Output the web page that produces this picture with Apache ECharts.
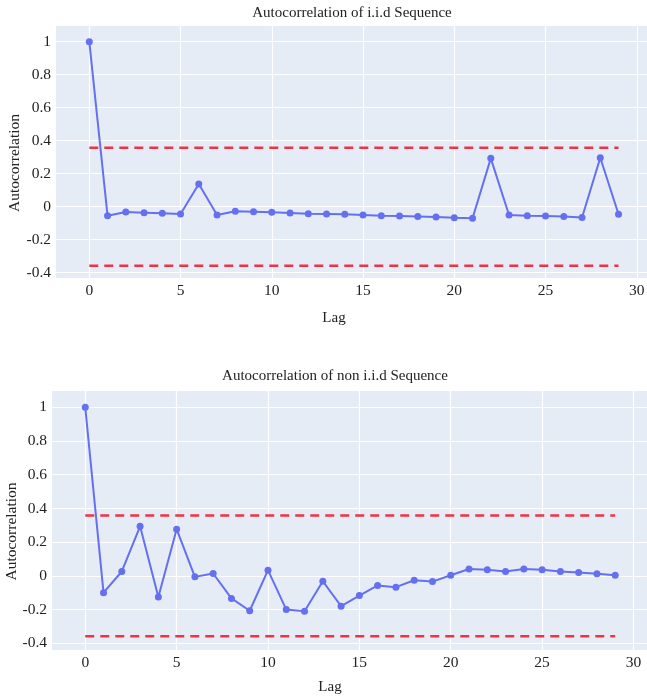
<!DOCTYPE html>
<html>
<head>
<meta charset="utf-8">
<script src="https://cdn.jsdelivr.net/npm/echarts@6/dist/echarts.min.js"></script>
<style>
html,body{margin:0;padding:0;background:#fff;}
#chart{width:647px;height:700px;}
</style>
</head>
<body>
<div id="chart"></div>
<script>
// ---- data ----
const lags = [0,1,2,3,4,5,6,7,8,9,10,11,12,13,14,15,16,17,18,19,20,21,22,23,24,25,26,27,28,29];
const acfIid = [1,-0.055,-0.032,-0.036,-0.040,-0.044,0.137,-0.050,-0.028,-0.030,-0.034,-0.038,-0.042,-0.044,-0.046,-0.050,-0.055,-0.057,-0.060,-0.063,-0.067,-0.070,0.293,-0.050,-0.055,-0.057,-0.060,-0.065,0.297,-0.046];
const acfNonIid = [1,-0.100,0.026,0.294,-0.125,0.277,-0.006,0.014,-0.134,-0.207,0.034,-0.200,-0.210,-0.032,-0.180,-0.117,-0.057,-0.067,-0.026,-0.034,0.004,0.041,0.036,0.026,0.041,0.036,0.026,0.020,0.012,0.004];
const confBound = 0.358;
const boundLags = [0, 29];
const xTicks = [0,5,10,15,20,25,30];
const yTicks = [-0.4,-0.2,0,0.2,0.4,0.6,0.8,1];
const titles = ['Autocorrelation of i.i.d Sequence', 'Autocorrelation of non i.i.d Sequence'];

// ---- chart ----
const FONT = "'Liberation Serif','Times New Roman',serif";
const TXT = '#222';
const chart = echarts.init(document.getElementById('chart'), null, {renderer:'canvas'});

function xAxis(gi, min, max, gap, padR){
  return {
    type:'value', gridIndex:gi, min:min, max:max,
    name:'Lag', nameLocation:'middle', nameGap:gap, nameMoveOverlap:false,
    nameTextStyle:{fontFamily:FONT, fontSize:15, color:TXT, padding:[0,padR,0,0]},
    axisLine:{show:false}, axisTick:{show:false, customValues:xTicks},
    axisLabel:{customValues:xTicks, fontFamily:FONT, fontSize:15.5, color:TXT, margin:5},
    splitLine:{show:true, lineStyle:{color:'#ffffff', width:1.2}}
  };
}
function yAxis(gi, min, max, gap, padR){
  return {
    type:'value', gridIndex:gi, min:min, max:max,
    name:'Autocorrelation', nameLocation:'middle', nameGap:gap, nameRotate:90, nameMoveOverlap:false,
    nameTextStyle:{fontFamily:FONT, fontSize:15.5, color:TXT, padding:[0,padR,0,0]},
    axisLine:{show:false}, axisTick:{show:false, customValues:yTicks},
    axisLabel:{customValues:yTicks, fontFamily:FONT, fontSize:15.5, color:TXT, margin:5},
    splitLine:{show:true, lineStyle:{color:'#ffffff', width:1.2}}
  };
}
function acfSeries(i, vals){
  return {
    type:'line', xAxisIndex:i, yAxisIndex:i,
    data: lags.map((l,k)=>[l, vals[k]]),
    symbol:'circle', symbolSize:7, showSymbol:true,
    lineStyle:{color:'#6470f0', width:2},
    itemStyle:{color:'#6470f0'},
    silent:true, animation:false, z:3
  };
}
function boundSeries(i, v){
  return {
    type:'line', xAxisIndex:i, yAxisIndex:i,
    data: boundLags.map(l=>[l, v]),
    symbol:'none',
    lineStyle:{color:'#ee3344', width:2.5, type:[9,6]},
    silent:true, animation:false, z:2
  };
}

const option = {
  animation:false,
  backgroundColor:'#ffffff',
  title:[
    {text:titles[0], left:347, top:1, textAlign:'center', textStyle:{fontFamily:FONT, fontSize:15, fontWeight:'normal', color:TXT}},
    {text:titles[1], left:330, top:364, textAlign:'center', textStyle:{fontFamily:FONT, fontSize:15, fontWeight:'normal', color:TXT}}
  ],
  grid:[
    {left:56, top:26, width:591, height:252, show:true, backgroundColor:'#e5ecf6', borderWidth:0, containLabel:false, outerBoundsMode:'none'},
    {left:52, top:391, width:595, height:259, show:true, backgroundColor:'#e5ecf6', borderWidth:0, containLabel:false, outerBoundsMode:'none'}
  ],
  xAxis:[ xAxis(0, -1.825, 30.56, 33, 35), xAxis(1, -1.82, 30.74, 30, 39) ],
  yAxis:[ yAxis(0, -0.432, 1.095, 33, 22), yAxis(1, -0.44, 1.097, 32, 22) ],
  series:[
    boundSeries(0, confBound), boundSeries(0, -confBound), acfSeries(0, acfIid),
    boundSeries(1, confBound), boundSeries(1, -confBound), acfSeries(1, acfNonIid)
  ]
};
chart.setOption(option);
</script>
</body>
</html>
